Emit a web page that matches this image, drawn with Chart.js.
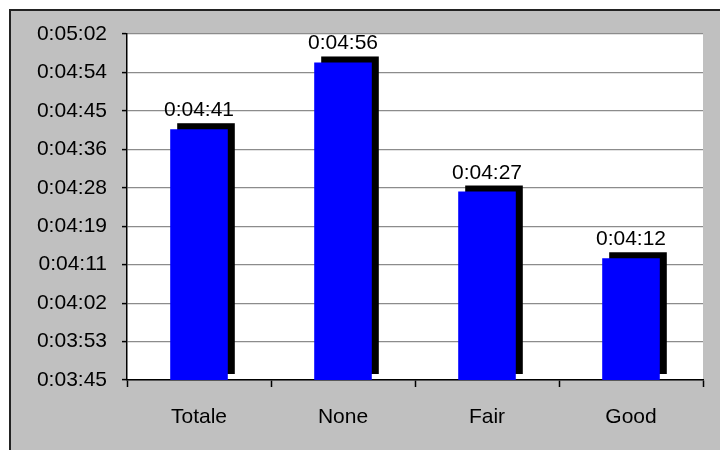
<!DOCTYPE html>
<html>
<head>
<meta charset="utf-8">
<script src="https://cdn.jsdelivr.net/npm/chart.js@4/dist/chart.umd.min.js"></script>
<style>
  html, body { margin: 0; padding: 0; background: #fff; }
  #wrap { width: 720px; height: 450px; }
</style>
</head>
<body>
<div id="wrap"><canvas id="durationChart" width="720" height="450"></canvas></div>
<script>
// Durées moyennes par catégorie (h:mm:ss)
const categories = ['Totale', 'None', 'Fair', 'Good'];
const durations = ['0:04:41', '0:04:56', '0:04:27', '0:04:12'];

// Axe vertical : graduations (pas de 0,0001 jour = 8,64 s)
const yTickLabels = ['0:03:45', '0:03:53', '0:04:02', '0:04:11', '0:04:19',
                     '0:04:28', '0:04:36', '0:04:45', '0:04:54', '0:05:02'];
const yMin = 224.64;
const yStep = 8.64;
const yMax = yMin + yStep * (yTickLabels.length - 1);

function toSeconds(str) {
  const p = str.split(':').map(Number);
  return p[0] * 3600 + p[1] * 60 + p[2];
}

const seconds = durations.map(toSeconds);
const FONT = { family: '"Liberation Sans", Arial, sans-serif', size: 21 };

// Fond gris avec cadre, zone de tracé blanche
const backgroundPlugin = {
  id: 'background',
  beforeDraw(chart) {
    const ctx = chart.ctx;
    const a = chart.chartArea;
    ctx.save();
    ctx.fillStyle = '#ffffff';
    ctx.fillRect(0, 0, chart.width, chart.height);
    ctx.fillStyle = '#c0c0c0';
    ctx.fillRect(10, 10, chart.width - 10, chart.height - 10);
    ctx.strokeStyle = '#222';
    ctx.lineWidth = 2;
    ctx.beginPath();
    ctx.moveTo(10, chart.height);
    ctx.lineTo(10, 10);
    ctx.lineTo(chart.width, 10);
    ctx.stroke();
    ctx.fillStyle = '#ffffff';
    ctx.fillRect(a.left, a.top, a.right - a.left, a.bottom - a.top);
    ctx.restore();
  }
};

// Ombre noire décalée derrière chaque barre + étiquettes de valeur
const shadowPlugin = {
  id: 'barShadow',
  beforeDatasetsDraw(chart) {
    const ctx = chart.ctx;
    const bottom = chart.chartArea.bottom;
    ctx.save();
    ctx.fillStyle = '#000';
    chart.getDatasetMeta(0).data.forEach(bar => {
      const w = bar.width;
      ctx.fillRect(bar.x - w / 2 + 7, bar.y - 6, w, bottom - bar.y);
    });
    ctx.restore();
  },
  afterDatasetsDraw(chart) {
    const ctx = chart.ctx;
    ctx.save();
    ctx.fillStyle = '#000';
    ctx.font = FONT.size + 'px ' + FONT.family;
    ctx.textAlign = 'center';
    ctx.textBaseline = 'alphabetic';
    chart.getDatasetMeta(0).data.forEach((bar, i) => {
      ctx.fillText(durations[i], bar.x, bar.y - 13);
    });
    ctx.restore();
  }
};

const ctx = document.getElementById('durationChart').getContext('2d');
new Chart(ctx, {
  type: 'bar',
  data: {
    labels: categories,
    datasets: [{
      data: seconds,
      backgroundColor: '#0000ff',
      borderWidth: 0,
      barPercentage: 0.4,
      categoryPercentage: 1
    }]
  },
  options: {
    responsive: false,
    animation: false,
    layout: { padding: { left: 0, top: 34, right: 17, bottom: 0 } },
    plugins: {
      legend: { display: false },
      tooltip: { enabled: false }
    },
    scales: {
      x: {
        grid: {
          offset: true,
          drawOnChartArea: false,
          tickLength: 7,
          tickColor: '#000',
          tickWidth: 1.5
        },
        border: { color: '#000', width: 1.5 },
        ticks: { color: '#000', font: FONT, padding: 18, maxRotation: 0 },
        afterFit(scale) { scale.height = 70; }
      },
      y: {
        min: yMin,
        max: yMax,
        grid: {
          color: '#8c8c8c',
          lineWidth: 1.2,
          tickLength: 5,
          tickColor: '#000',
          tickWidth: 1.5
        },
        border: { color: '#000', width: 1.5 },
        ticks: {
          color: '#000',
          font: FONT,
          padding: 15,
          callback: (v, i) => yTickLabels[i]
        },
        afterBuildTicks(scale) {
          scale.ticks = yTickLabels.map((_, i) => ({ value: yMin + i * yStep }));
        },
        afterFit(scale) { scale.width = 127; }
      }
    }
  },
  plugins: [backgroundPlugin, shadowPlugin]
});
</script>
</body>
</html>
